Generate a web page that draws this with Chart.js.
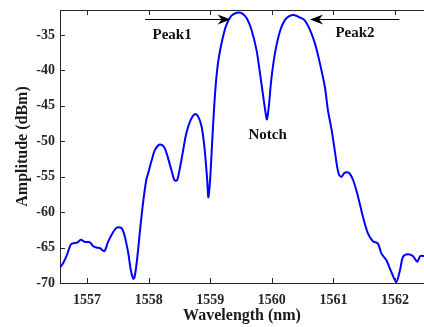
<!DOCTYPE html>
<html><head><meta charset="utf-8">
<script src="https://cdn.jsdelivr.net/npm/chart.js@4/dist/chart.umd.min.js"></script>
<style>html,body{margin:0;padding:0;background:#fff;overflow:hidden}</style>
</head><body>
<canvas id="c" width="424" height="327"></canvas>
<script>
const wavelength = [1556.56,1556.61,1556.67,1556.74,1556.80,1556.84,1556.90,1556.96,1557.02,1557.05,1557.10,1557.15,1557.21,1557.28,1557.34,1557.41,1557.48,1557.55,1557.58,1557.62,1557.67,1557.71,1557.75,1557.77,1557.81,1557.86,1557.91,1557.96,1557.99,1558.05,1558.10,1558.18,1558.25,1558.30,1558.37,1558.42,1558.46,1558.50,1558.56,1558.61,1558.68,1558.75,1558.80,1558.86,1558.91,1558.95,1558.97,1559.00,1559.04,1559.07,1559.10,1559.14,1559.20,1559.26,1559.34,1559.43,1559.51,1559.59,1559.67,1559.75,1559.80,1559.86,1559.90,1559.92,1559.95,1559.99,1560.05,1560.13,1560.21,1560.29,1560.37,1560.45,1560.53,1560.62,1560.70,1560.78,1560.86,1560.91,1560.97,1561.02,1561.06,1561.09,1561.13,1561.18,1561.25,1561.32,1561.40,1561.48,1561.56,1561.64,1561.72,1561.78,1561.86,1561.94,1562.02,1562.08,1562.13,1562.21,1562.29,1562.36,1562.41,1562.47];
const amplitude = [-67.8,-67.2,-66.1,-64.5,-64.35,-64.3,-63.9,-64.2,-64.2,-64.3,-64.8,-65.0,-65.1,-65.5,-64.2,-63.0,-62.2,-62.2,-62.55,-63.7,-65.85,-68.2,-69.4,-69.2,-66.8,-62.5,-58.6,-55.5,-54.55,-52.65,-51.25,-50.45,-50.8,-51.95,-54.1,-55.5,-55.5,-54.1,-51.25,-48.9,-47.0,-46.15,-46.45,-47.95,-51.25,-55.5,-57.9,-55.0,-48.6,-44.2,-40.9,-38.1,-35.5,-33.6,-32.3,-31.85,-31.9,-32.6,-34.3,-37.1,-39.95,-43.7,-46.1,-46.9,-45.1,-41.35,-37.6,-34.5,-32.9,-32.3,-32.2,-32.5,-32.9,-34.3,-36.2,-39.0,-42.3,-45.6,-48.4,-51.25,-53.6,-54.7,-55.0,-54.45,-54.45,-55.5,-57.85,-60.7,-63.0,-64.1,-64.4,-65.85,-66.8,-68.45,-69.86,-68.2,-66.3,-65.95,-66.2,-67.0,-66.2,-66.2];
const xTickValues = [1557,1558,1559,1560,1561,1562];
const yTickValues = [-70,-65,-60,-55,-50,-45,-40,-35];
const noteLabels = ['Peak1','Peak2','Notch'];
const noteX = [1558.38,1561.35,1559.93];
const noteY = [-35.0,-34.7,-49.1];
const arrowTailX = [1557.94,1562.07];
const arrowHeadX = [1559.33,1560.62];
const arrowY = [-32.7,-32.78];

const frame = {
  id:'frame',
  afterDatasetsDraw(chart){
    const {ctx, chartArea:a, scales:{x,y}} = chart;
    ctx.save();
    ctx.strokeStyle='#262626'; ctx.lineWidth=1;
    ctx.beginPath();
    ctx.moveTo(a.left, a.top+0.5); ctx.lineTo(a.right, a.top+0.5);
    xTickValues.forEach(v=>{const px=Math.round(x.getPixelForValue(v))+0.5;
      ctx.moveTo(px,a.bottom); ctx.lineTo(px,a.bottom-5);
      ctx.moveTo(px,a.top); ctx.lineTo(px,a.top+5);});
    yTickValues.forEach(v=>{const py=Math.round(y.getPixelForValue(v))+0.5;
      ctx.moveTo(a.left,py); ctx.lineTo(a.left+5,py);});
    ctx.stroke();
    ctx.strokeStyle='#000'; ctx.fillStyle='#000'; ctx.lineWidth=1;
    arrowTailX.forEach((t,i)=>{
      const tx=x.getPixelForValue(t), hx=x.getPixelForValue(arrowHeadX[i]);
      const py=Math.round(y.getPixelForValue(arrowY[i]))+0.5;
      const dir = hx>tx?1:-1;
      ctx.beginPath(); ctx.moveTo(tx,py); ctx.lineTo(hx-dir*6,py); ctx.stroke();
      ctx.beginPath();
      ctx.moveTo(hx,py);
      ctx.lineTo(hx-dir*13,py-5);
      ctx.lineTo(hx-dir*9,py);
      ctx.lineTo(hx-dir*13,py+5);
      ctx.closePath(); ctx.fill();
    });
    ctx.font='bold 15px "Liberation Serif"';
    ctx.textAlign='center'; ctx.textBaseline='middle'; ctx.fillStyle='#111';
    noteLabels.forEach((s,i)=>ctx.fillText(s, x.getPixelForValue(noteX[i]), y.getPixelForValue(noteY[i])));
    ctx.restore();
  }
};

const tickFont = {family:'"Liberation Serif"', size:14, weight:'bold'};
const titleFont = {family:'"Liberation Serif"', size:16, weight:'bold'};

new Chart(document.getElementById('c'), {
  type:'line',
  data:{datasets:[{data: wavelength.map((w,i)=>({x:w,y:amplitude[i]})), borderColor:'#0000ff', borderWidth:2, pointRadius:0, tension:0.3, fill:false}]},
  options:{
    responsive:false, animation:false, devicePixelRatio:1,
    layout:{padding:{top:10,right:0,left:0,bottom:0}},
    plugins:{legend:{display:false}, tooltip:{enabled:false}},
    scales:{
      x:{type:'linear', min:1556.56, max:1562.47,
        afterBuildTicks:s=>{s.ticks=xTickValues.map(v=>({value:v}));},
        afterFit:s=>{s.height=44; s.paddingLeft=0; s.paddingRight=0;},
        grid:{drawOnChartArea:false, drawTicks:false},
        border:{display:true, color:'#262626', width:1},
        ticks:{font:tickFont, color:'#262626', padding:9, autoSkip:false, maxRotation:0, callback:v=>String(v)},
        title:{display:true, text:'Wavelength (nm)', font:titleFont, color:'#1a1a1a', padding:{top:0,bottom:2}}
      },
      y:{type:'linear', min:-70, max:-31.47,
        afterBuildTicks:s=>{s.ticks=yTickValues.map(v=>({value:v}));},
        afterFit:s=>{s.width=60; s.paddingTop=0; s.paddingBottom=0;},
        grid:{drawOnChartArea:false, drawTicks:false},
        border:{display:true, color:'#262626', width:1},
        ticks:{font:tickFont, color:'#262626', padding:5, autoSkip:false, callback:v=>String(v)},
        title:{display:true, text:'Amplitude (dBm)', font:titleFont, color:'#1a1a1a', padding:{top:13,bottom:0}}
      }
    }
  },
  plugins:[frame]
});
</script>
</body></html>
